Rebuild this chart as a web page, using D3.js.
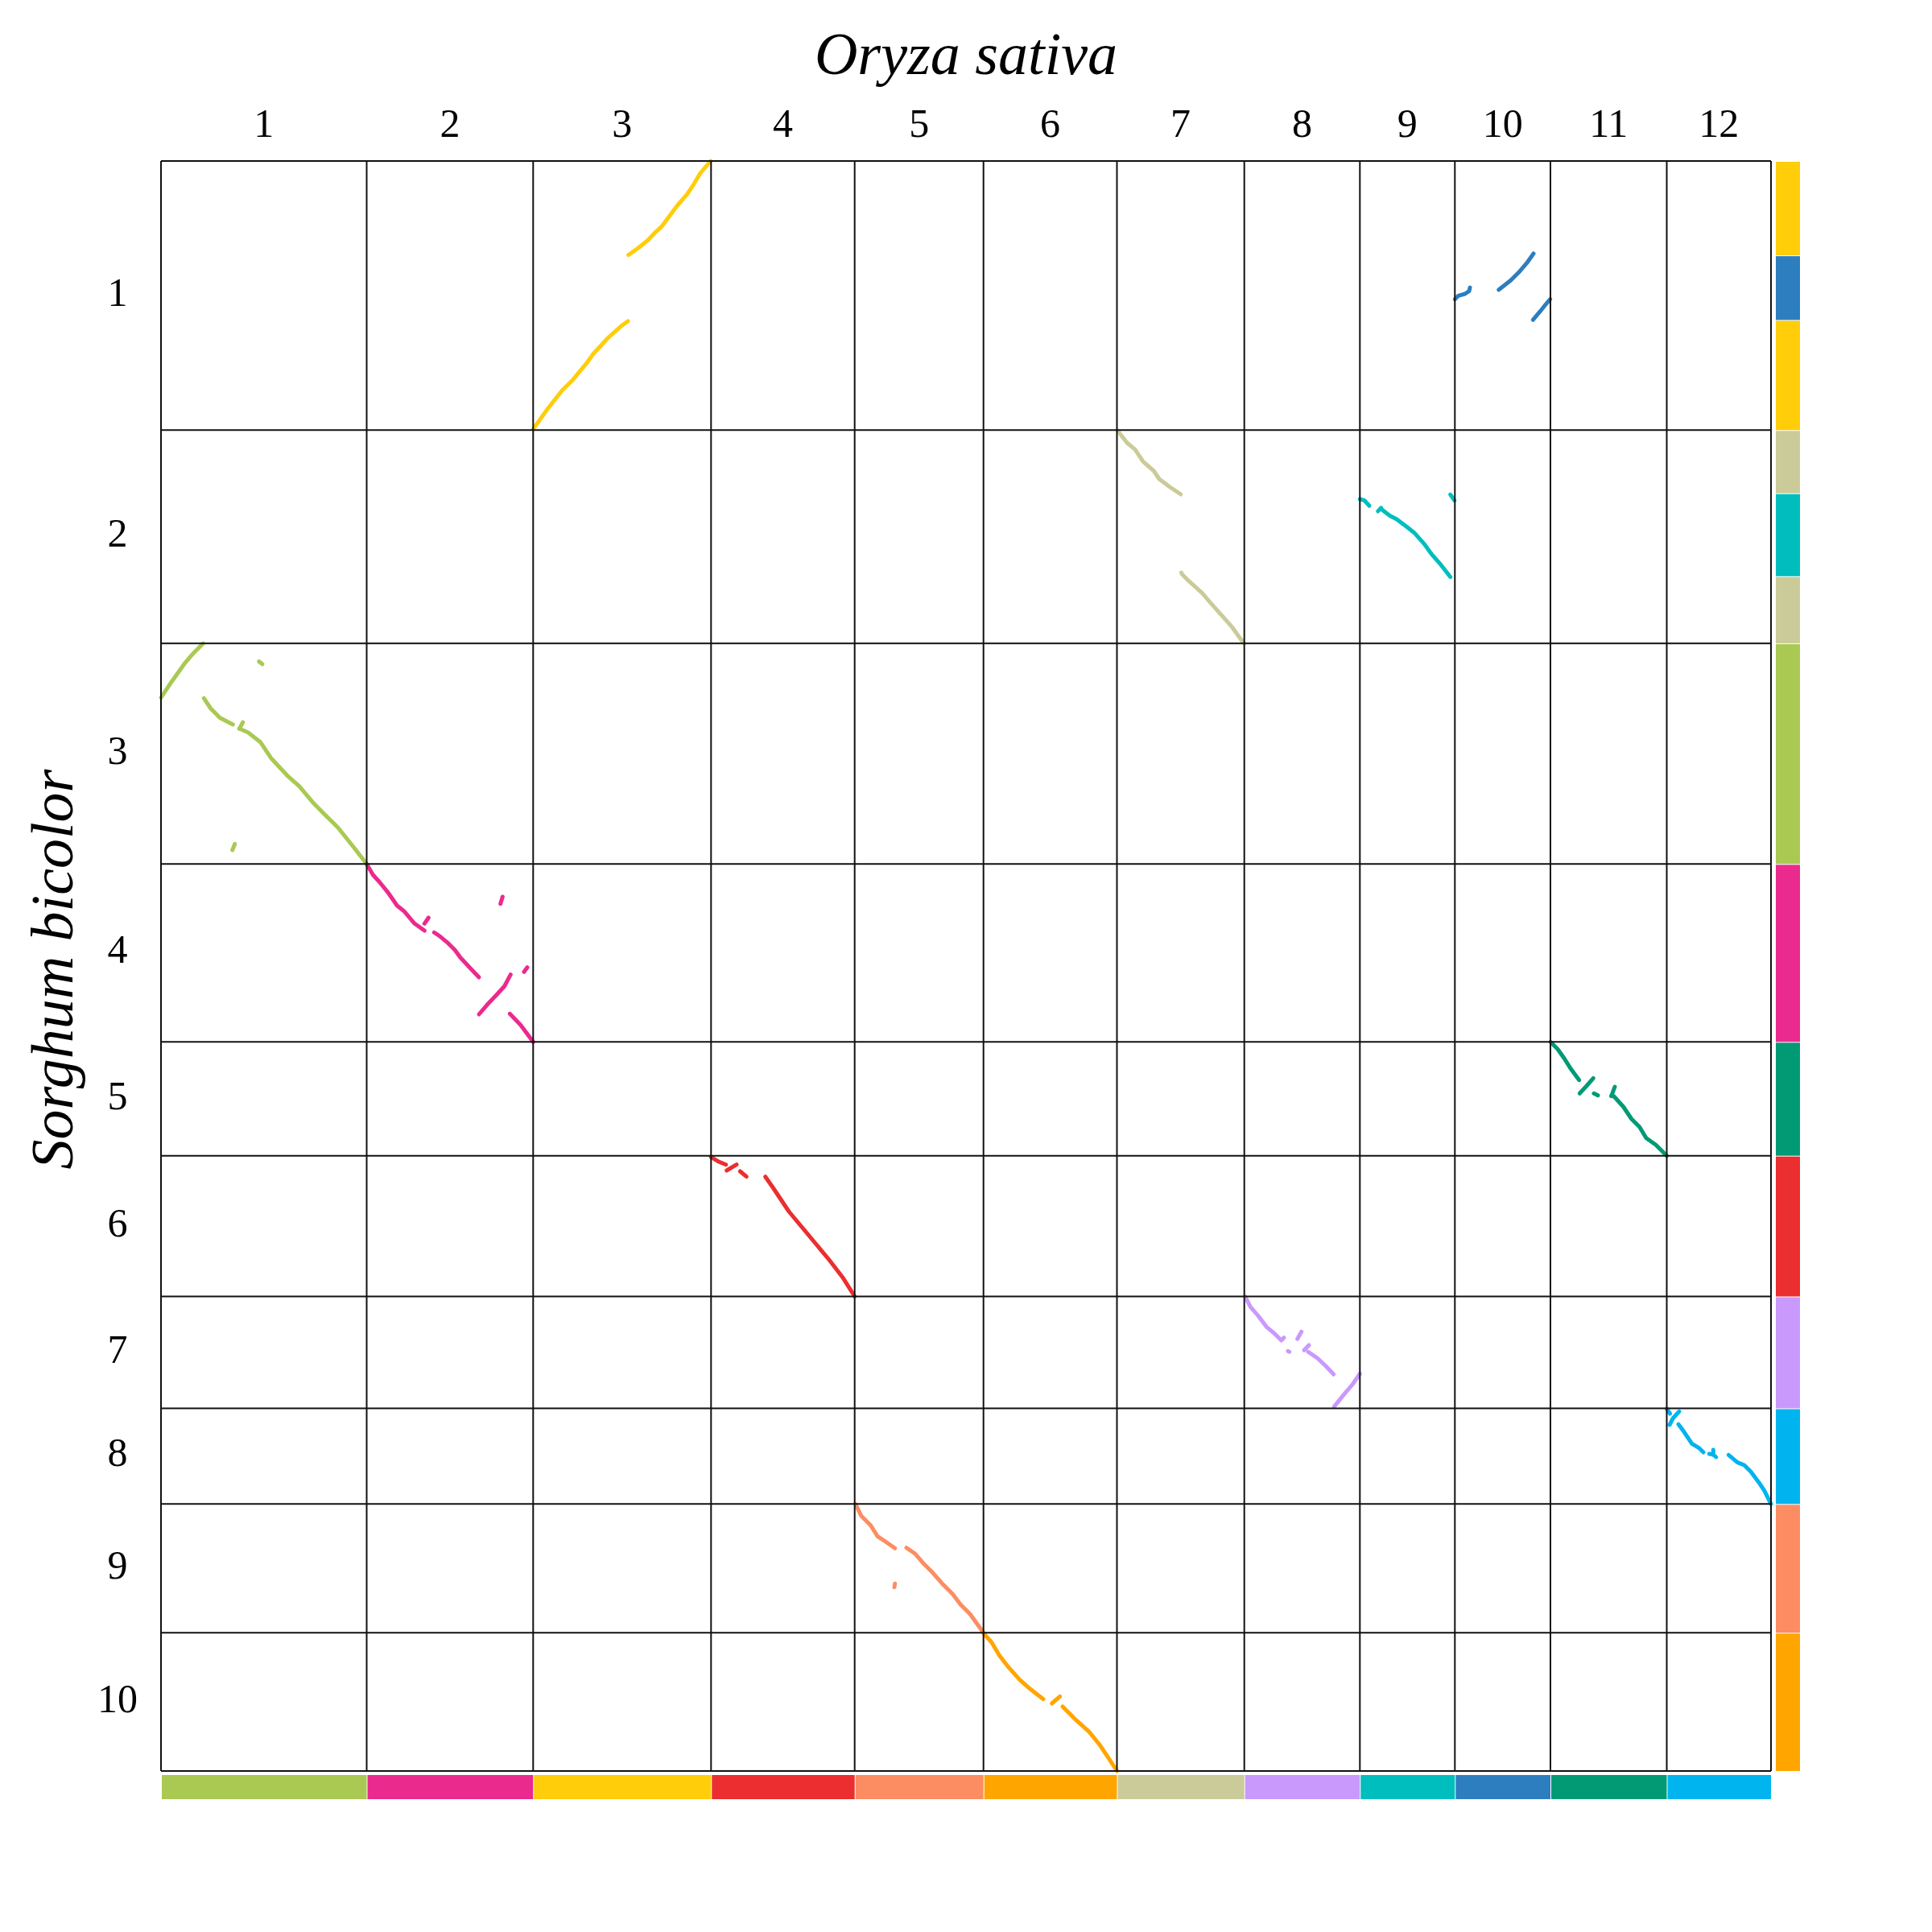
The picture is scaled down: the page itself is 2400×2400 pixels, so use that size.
<!DOCTYPE html>
<html>
<head>
<meta charset="utf-8">
<script src="https://cdn.jsdelivr.net/npm/d3@7"></script>
<style>
  html, body { margin: 0; padding: 0; background: #fff; }
  svg { display: block; }
</style>
</head>
<body>
<svg id="chart" width="2400" height="2400"></svg>
<script>
// ---------------- DATA ----------------
// Rice (Oryza sativa) chromosomes along x, sizes in relative units
const riceChroms = ["1","2","3","4","5","6","7","8","9","10","11","12"];
const riceSizes  = [2555, 2068, 2210, 1784, 1600, 1658, 1582, 1436, 1180, 1187, 1445, 1295];
const riceColors = ["#a9c952","#eb2a8e","#ffcd0a","#eb2e2f","#fc8d62","#ffa500",
                    "#cbcb99","#c999fc","#00bebe","#2d7ebf","#009a75","#00b4ef"];

// Sorghum (Sorghum bicolor) chromosomes along y
const sorgChroms = ["1","2","3","4","5","6","7","8","9","10"];
const sorgSizes  = [3343, 2649, 2741, 2210, 1414, 1748, 1390, 1188, 1600, 1717];

// Right-hand bar: sorghum regions coloured by their rice counterpart
const sorgBlockChr   = [1, 1, 1, 2, 2, 2, 3, 4, 5, 6, 7, 8, 9, 10];
const sorgBlockStart = [0, 1172, 1975, 0, 785, 1815, 0, 0, 0, 0, 0, 0, 0, 0];
const sorgBlockEnd   = [1172, 1975, 3343, 785, 1815, 2649, 2741, 2210, 1414, 1748, 1390, 1188, 1600, 1717];
const sorgBlockRice  = [3, 10, 3, 7, 9, 7, 1, 2, 11, 4, 8, 12, 5, 6];

// Synteny segments: rice chr, sorghum chr, points [rice position, sorghum position]
const syntenyBlocks = [
  // rice 3 vs sorghum 1
  {r:3, s:1, pts:[[0,3330],[177,3083],[360,2850],[494,2717],[660,2517],[744,2400],[927,2200],[1094,2050],[1177,1990]]},
  {r:3, s:1, pts:[[1184,1167],[1310,1077],[1427,983],[1510,893],[1594,817],[1694,683],[1794,550],[1910,417],[1977,317],[2077,150],[2205,0]]},
  // rice 10 vs sorghum 1
  {r:10, s:1, pts:[[0,1717],[44,1673],[127,1650],[177,1617],[187,1573]]},
  {r:10, s:1, pts:[[544,1600],[694,1483],[794,1383],[894,1267],[977,1150]]},
  {r:10, s:1, pts:[[970,1973],[1060,1867],[1127,1783],[1184,1717]]},
  // rice 7 vs sorghum 2
  {r:7, s:2, pts:[[8,7],[125,157],[225,240],[325,390],[458,507],[525,607],[658,707],[792,797]]},
  {r:7, s:2, pts:[[800,1770],[808,1790],[892,1874],[1058,2024],[1158,2140],[1292,2290],[1425,2440],[1558,2624],[1580,2649]]},
  // rice 9 vs sorghum 2
  {r:9, s:2, pts:[[0,857],[57,874],[117,940]]},
  {r:9, s:2, pts:[[224,1007],[264,967]]},
  {r:9, s:2, pts:[[257,974],[374,1064],[457,1107],[590,1207],[674,1274],[807,1424],[890,1540],[1007,1674],[1124,1824]]},
  {r:9, s:2, pts:[[1124,800],[1174,874]]},
  // rice 1 vs sorghum 3
  {r:1, s:3, pts:[[0,675],[133,475],[300,241],[400,125],[523,0]]},
  {r:1, s:3, pts:[[1217,225],[1260,258]]},
  {r:1, s:3, pts:[[533,681],[617,808],[733,925],[893,1008]]},
  {r:1, s:3, pts:[[1017,981],[973,1061]]},
  {r:1, s:3, pts:[[973,1058],[1083,1108],[1233,1225],[1367,1425],[1567,1641],[1717,1775],[1900,1991],[2033,2125],[2200,2291],[2400,2541],[2555,2741]]},
  {r:1, s:3, pts:[[917,2491],[887,2568]]},
  // rice 2 vs sorghum 4
  {r:2, s:4, pts:[[0,0],[78,134],[162,227],[262,350],[378,517],[462,584],[595,740],[718,827]]},
  {r:2, s:4, pts:[[718,740],[768,667]]},
  {r:2, s:4, pts:[[838,850],[912,900],[1012,984],[1095,1067],[1162,1160],[1278,1284],[1395,1407]]},
  {r:2, s:4, pts:[[1662,494],[1688,407]]},
  {r:2, s:4, pts:[[1395,1867],[1495,1750],[1612,1627],[1712,1517],[1788,1374]]},
  {r:2, s:4, pts:[[1955,1340],[1995,1284]]},
  {r:2, s:4, pts:[[1778,1860],[1912,2000],[2068,2210]]},
  // rice 11 vs sorghum 5
  {r:11, s:5, pts:[[0,0],[90,90],[173,207],[257,340],[357,474]]},
  {r:11, s:5, pts:[[363,640],[440,557],[533,450]]},
  {r:11, s:5, pts:[[540,640],[590,664]]},
  {r:11, s:5, pts:[[800,557],[757,674]]},
  {r:11, s:5, pts:[[757,670],[790,677],[907,807],[1007,957],[1107,1057],[1190,1194],[1307,1277],[1445,1414]]},
  // rice 4 vs sorghum 6
  {r:4, s:6, pts:[[0,16],[100,76],[184,110]]},
  {r:4, s:6, pts:[[194,183],[317,110]]},
  {r:4, s:6, pts:[[360,193],[440,260]]},
  {r:4, s:6, pts:[[674,260],[767,393],[867,543],[967,693],[1134,893],[1300,1093],[1467,1293],[1634,1510],[1784,1748]]},
  // rice 8 vs sorghum 7
  {r:8, s:7, pts:[[10,0],[76,128],[176,245],[276,378],[376,462],[460,545],[493,512]]},
  {r:8, s:7, pts:[[543,678],[560,688]]},
  {r:8, s:7, pts:[[660,528],[710,438]]},
  {r:8, s:7, pts:[[743,668],[803,605]]},
  {r:8, s:7, pts:[[793,688],[910,768],[1010,862],[1110,968]]},
  {r:8, s:7, pts:[[1116,1368],[1243,1212],[1343,1095],[1436,960]]},
  // rice 12 vs sorghum 8
  {r:12, s:8, pts:[[0,5],[40,65]]},
  {r:12, s:8, pts:[[35,205],[78,122],[155,38]]},
  {r:12, s:8, pts:[[145,198],[212,288],[312,438],[395,488],[455,545]]},
  {r:12, s:8, pts:[[528,565],[578,575],[612,605]]},
  {r:12, s:8, pts:[[578,575],[578,515]]},
  {r:12, s:8, pts:[[768,578],[878,672],[962,705],[1045,788],[1145,922],[1212,1022],[1295,1188]]},
  // rice 5 vs sorghum 9
  {r:5, s:9, pts:[[10,0],[83,150],[200,267],[283,400],[383,467],[500,550]]},
  {r:5, s:9, pts:[[643,544],[750,617],[850,734],[966,850],[1083,984],[1216,1117],[1316,1250],[1433,1367],[1600,1600]]},
  {r:5, s:9, pts:[[500,990],[493,1034]]},
  // rice 6 vs sorghum 10
  {r:6, s:10, pts:[[0,0],[10,17],[100,117],[200,284],[316,434],[450,584],[583,700],[743,824]]},
  {r:6, s:10, pts:[[850,877],[950,790]]},
  {r:6, s:10, pts:[[983,917],[1150,1084],[1316,1234],[1450,1400],[1550,1550],[1658,1717]]}
];

// ---------------- LAYOUT ----------------
const mLeft = 200, mTop = 200, plotW = 2000, plotH = 2000;
const riceOffsets = Array.from(d3.cumsum([0, ...riceSizes]));   // length 13
const sorgOffsets = Array.from(d3.cumsum([0, ...sorgSizes]));   // length 11
const riceTotal = riceOffsets[riceOffsets.length - 1];
const sorgTotal = sorgOffsets[sorgOffsets.length - 1];

const x = d3.scaleLinear().domain([0, riceTotal]).range([mLeft, mLeft + plotW]);
const y = d3.scaleLinear().domain([0, sorgTotal]).range([mTop, mTop + plotH]);

const svg = d3.select("#chart");
const serif = "'Liberation Serif', 'Times New Roman', serif";

// synteny lines
const line = d3.line().x(d => d[0]).y(d => d[1]);

svg.append("g").selectAll("path")
  .data(syntenyBlocks)
  .join("path")
  .attr("d", b => line(b.pts.map(p => [x(riceOffsets[b.r - 1] + p[0]), y(sorgOffsets[b.s - 1] + p[1])])))
  .attr("fill", "none")
  .attr("stroke", b => riceColors[b.r - 1])
  .attr("stroke-width", 5)
  .attr("stroke-linecap", "round")
  .attr("stroke-linejoin", "round");

// grid
const grid = svg.append("g").attr("stroke", "#111").attr("stroke-width", 2);
grid.selectAll("line.v")
  .data(riceOffsets)
  .join("line").attr("class", "v")
  .attr("x1", d => x(d)).attr("x2", d => x(d))
  .attr("y1", y(0)).attr("y2", y(sorgTotal));
grid.selectAll("line.h")
  .data(sorgOffsets)
  .join("line").attr("class", "h")
  .attr("y1", d => y(d)).attr("y2", d => y(d))
  .attr("x1", x(0)).attr("x2", x(riceTotal));

// bottom colour bar
svg.append("g").selectAll("rect")
  .data(riceSizes)
  .join("rect")
  .attr("x", (d, i) => x(riceOffsets[i]) + 1)
  .attr("width", (d, i) => x(riceOffsets[i + 1]) - x(riceOffsets[i]) - 1)
  .attr("y", 2205)
  .attr("height", 30)
  .attr("fill", (d, i) => riceColors[i]);

// right colour bar
svg.append("g").selectAll("rect")
  .data(sorgBlockChr)
  .join("rect")
  .attr("x", 2206)
  .attr("width", 30)
  .attr("y", (c, i) => y(sorgOffsets[c - 1] + sorgBlockStart[i]) + 1)
  .attr("height", (c, i) => y(sorgOffsets[c - 1] + sorgBlockEnd[i]) - y(sorgOffsets[c - 1] + sorgBlockStart[i]) - 1)
  .attr("fill", (c, i) => riceColors[sorgBlockRice[i] - 1]);

// column labels
svg.append("g").selectAll("text")
  .data(riceChroms)
  .join("text")
  .attr("x", (d, i) => x((riceOffsets[i] + riceOffsets[i + 1]) / 2))
  .attr("y", 170)
  .attr("text-anchor", "middle")
  .attr("font-family", serif)
  .attr("font-size", 50)
  .text(d => d);

// row labels
svg.append("g").selectAll("text")
  .data(sorgChroms)
  .join("text")
  .attr("x", 146)
  .attr("y", (d, i) => y((sorgOffsets[i] + sorgOffsets[i + 1]) / 2))
  .attr("dy", "0.25em")
  .attr("text-anchor", "middle")
  .attr("font-family", serif)
  .attr("font-size", 50)
  .text(d => d);

// titles
svg.append("text")
  .attr("x", 1200).attr("y", 92)
  .attr("text-anchor", "middle")
  .attr("font-family", serif)
  .attr("font-style", "italic")
  .attr("font-size", 74)
  .text("Oryza sativa");

svg.append("text")
  .attr("transform", "translate(90,1204) rotate(-90)")
  .attr("text-anchor", "middle")
  .attr("font-family", serif)
  .attr("font-style", "italic")
  .attr("font-size", 74)
  .text("Sorghum bicolor");
</script>
</body>
</html>
